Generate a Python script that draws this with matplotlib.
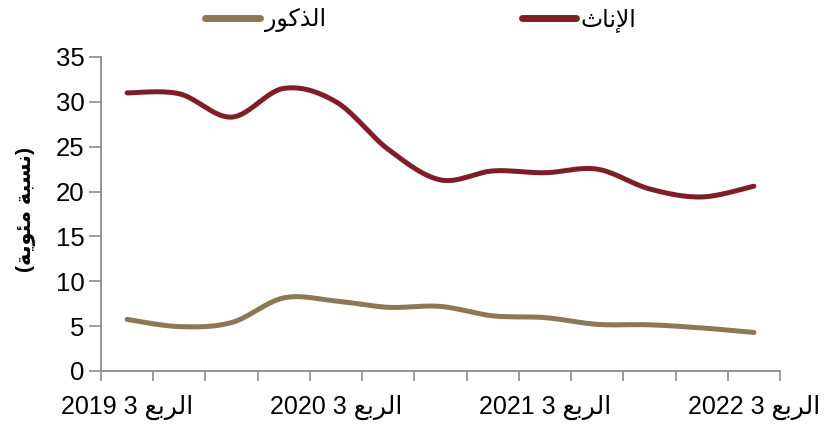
import numpy as np
import matplotlib
matplotlib.use("Agg")
from matplotlib import pyplot as plt

# data (percent), quarterly Q3 2019 .. Q3 2022
quarters = ["Q3 2019", "Q4 2019", "Q1 2020", "Q2 2020", "Q3 2020", "Q4 2020",
            "Q1 2021", "Q2 2021", "Q3 2021", "Q4 2021", "Q1 2022", "Q2 2022", "Q3 2022"]
females = [31.0, 30.9, 28.3, 31.5, 30.0, 24.7, 21.3, 22.3, 22.1, 22.5, 20.3, 19.4, 20.6]
males = [5.75, 4.95, 5.4, 8.15, 7.8, 7.1, 7.2, 6.15, 5.95, 5.2, 5.15, 4.8, 4.3]

# Arabic text already shaped (presentation forms) and in visual order
rub = "\uFECA\uFE91\uFEAE\uFEDF\uFE8D"            # الربع
tick_labels = ["2019 3 " + rub, "2020 3 " + rub, "2021 3 " + rub, "2022 3 " + rub]
label_males = "\uFEAD\uFEEE\uFEDB\uFEAC\uFEDF\uFE8D"      # الذكور
label_females = "\uFE99\uFE8E\uFEE7\uFEF9\uFE8D"          # الإناث
ylabel = "(\uFE94\uFEF3\uFEEE\uFE8C\uFEE3 \uFE94\uFE92\uFEB4\uFEE7)"   # (نسبة مئوية)

col_f = "#7E1F28"
col_m = "#8C7855"
grey = "#8C8C8C"
fonts = ["Liberation Sans", "DejaVu Sans"]


def smooth(x, y, n=30):
    # excel-like smoothed line: bezier segments with catmull-rom control points
    x = np.asarray(x, float)
    y = np.asarray(y, float)
    p = np.column_stack([x, y])
    pp = np.vstack([p[0], p, p[-1]])
    t = np.linspace(0, 1, n)[:, None]
    out = []
    for i in range(len(p) - 1):
        p0, p1, p2, p3 = pp[i], pp[i + 1], pp[i + 2], pp[i + 3]
        c1 = p1 + (p2 - p0) / 6
        c2 = p2 - (p3 - p1) / 6
        seg = ((1 - t) ** 3) * p1 + 3 * ((1 - t) ** 2) * t * c1 + 3 * (1 - t) * t ** 2 * c2 + t ** 3 * p2
        out.append(seg if i == 0 else seg[1:])
    out = np.vstack(out)
    return out[:, 0], out[:, 1]


fig = plt.figure(figsize=(8.24, 4.28), dpi=100)
ax = fig.add_axes([101 / 824, 1 - 371 / 428, 679 / 824, 314 / 428])

x = np.arange(len(quarters))
xm, ym = smooth(x, males)
xf, yf = smooth(x, females)
ax.plot(xm, ym, color=col_m, lw=3.6, solid_capstyle="round", label=label_males)
ax.plot(xf, yf, color=col_f, lw=3.6, solid_capstyle="round", label=label_females)

ax.set_xlim(-0.5, len(quarters) - 0.5)
ax.set_ylim(0, 35)
ax.set_yticks(range(0, 36, 5))
ax.set_xticks(np.arange(-0.5, len(quarters), 1.0))
ax.set_xticklabels([])
ax.set_xticks(x[::4], minor=True)
ax.set_xticklabels(tick_labels, minor=True)
ax.tick_params(axis="x", which="major", direction="out", length=7, width=1.2, color=grey)
ax.tick_params(axis="x", which="minor", length=0, pad=17, labelsize=18)
ax.tick_params(axis="y", direction="out", length=9, width=1.2, color=grey, labelsize=18.5, pad=3)
for lab in ax.get_yticklabels() + ax.get_xticklabels(minor=True):
    lab.set_family(fonts)

for s in ["top", "right"]:
    ax.spines[s].set_visible(False)
for s in ["left", "bottom"]:
    ax.spines[s].set_color(grey)
    ax.spines[s].set_linewidth(1.3)

fig.text(26 / 824, 1 - 210 / 428, ylabel, rotation=90, ha="center", va="center",
         fontsize=15, fontweight="bold", family=fonts)

leg = fig.legend(loc="center", bbox_to_anchor=(421 / 824, 1 - 20 / 428), ncol=2, frameon=False,
                 prop={"family": fonts, "size": 17}, handlelength=2.3, handletextpad=0.2,
                 columnspacing=8.3)
for h in leg.get_lines():
    h.set_linewidth(5)

fig.savefig("out.png", dpi=100)
